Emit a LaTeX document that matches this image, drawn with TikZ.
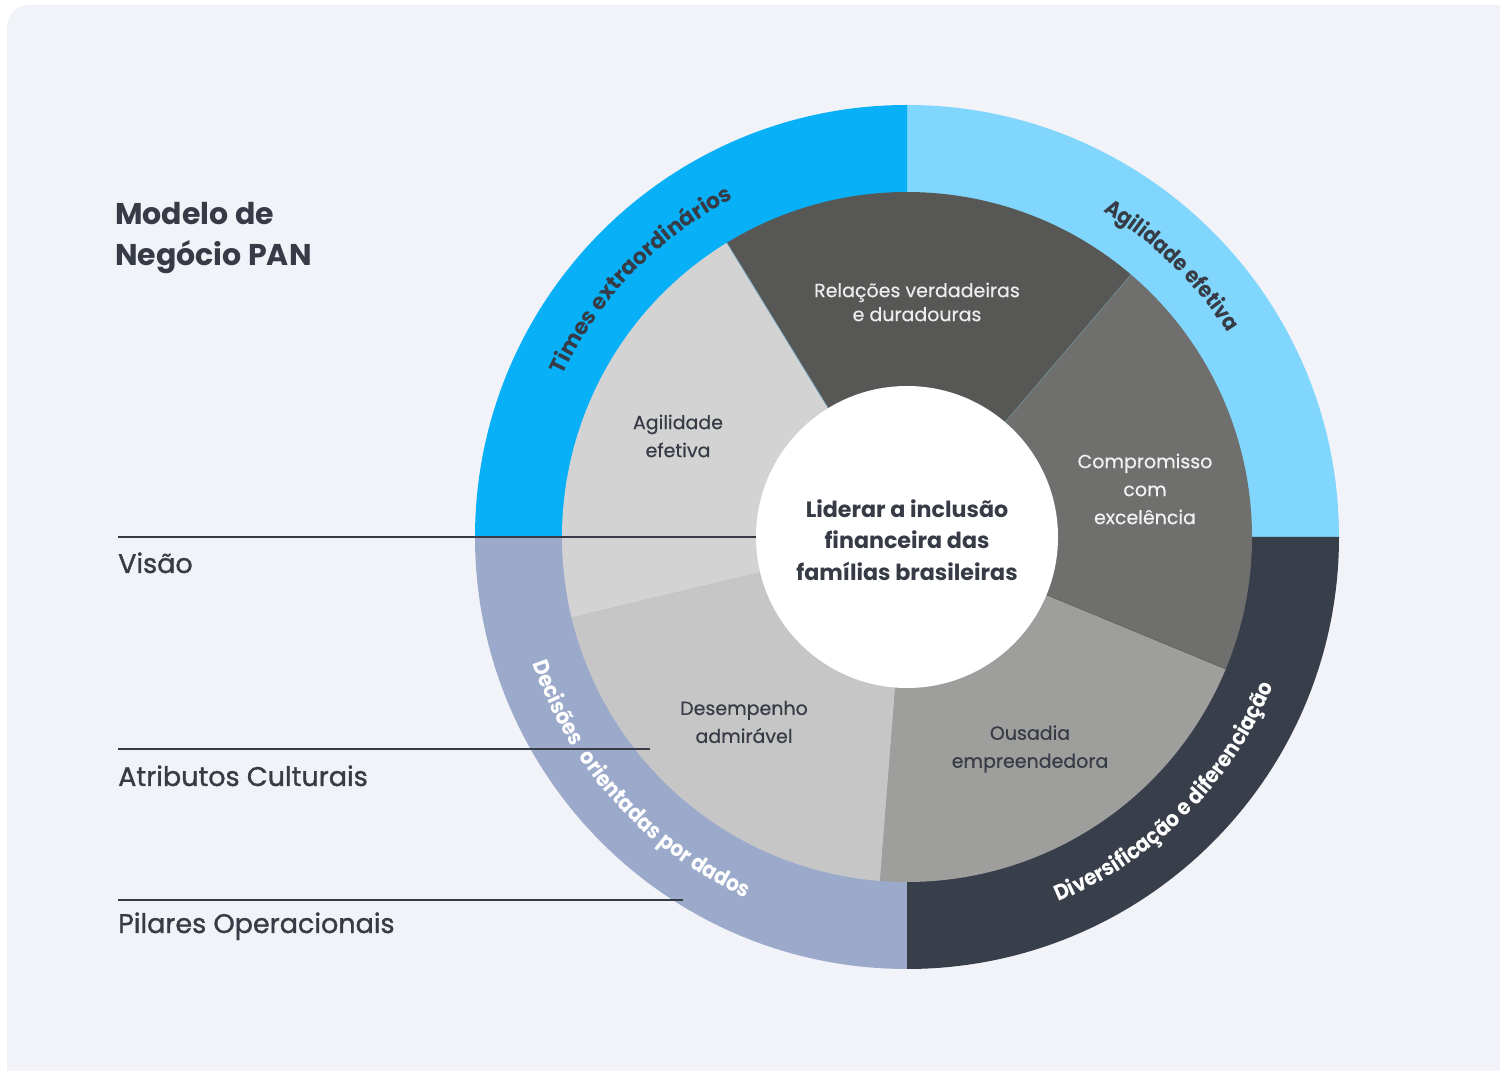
\documentclass[tikz,border=0pt]{standalone}
\usepackage{fontspec}
\setmainfont{Poppins}
\newfontfamily\medfont[FakeBold=1.2]{Poppins}
\newfontfamily\slfont[FakeBold=0.4]{Poppins}
\newfontfamily\ringfont[FakeStretch=0.91]{Poppins}
\usetikzlibrary{decorations.text}
\definecolor{bgc}{HTML}{F2F3F8}
\definecolor{txt}{HTML}{363B45}
\definecolor{ringA}{HTML}{08B0F8}
\definecolor{ringB}{HTML}{80D6FC}
\definecolor{ringC}{HTML}{393F4A}
\definecolor{ringD}{HTML}{9BAACB}
\definecolor{sA}{HTML}{575755}
\definecolor{sB}{HTML}{D3D3D3}
\definecolor{sC}{HTML}{C6C6C6}
\definecolor{sD}{HTML}{9E9E9C}
\definecolor{sE}{HTML}{6F6F6E}
\definecolor{seam}{HTML}{7FAFC8}
\begin{document}
\begin{tikzpicture}[x=1pt,y=1pt,
  lbl/.style={font=\medfont\fontsize{27}{34}\selectfont, text=txt, anchor=base west, inner sep=0},
  ttl/.style={font=\fontsize{30}{40}\selectfont\bfseries, text=txt, anchor=base west, inner sep=0},
  slicelbl/.style={font=\slfont\fontsize{19}{28}\selectfont, align=center, inner sep=0},
  rulestyle/.style={draw=txt, line width=2.2pt},
  ringtext/.style={decorate, decoration={text along path, text align=center, text={#1}}}
]
\useasboundingbox (0,0) rectangle (1500,1071);
\fill[white] (0,0) rectangle (1500,1071);
\fill[bgc, rounded corners=22pt] (7,-40) rectangle (1560,1066);
\coordinate (C) at (907,534);
% outer ring quadrants
\fill[ringB] (C) -- ++(0:432) arc[start angle=0, end angle=90, radius=432] -- cycle;
\fill[ringA] (C) -- ++(90:432) arc[start angle=90, end angle=180, radius=432] -- cycle;
\fill[ringD] (C) -- ++(180:432) arc[start angle=180, end angle=270, radius=432] -- cycle;
\fill[ringC] (C) -- ++(270:432) arc[start angle=270, end angle=360, radius=432] -- cycle;
% inner slices
\fill[sA] (C) -- ++(49.5:345) arc[start angle=49.5, end angle=121.5, radius=345] -- cycle;
\fill[sB] (C) -- ++(121.5:345) arc[start angle=121.5, end angle=193.5, radius=345] -- cycle;
\fill[sC] (C) -- ++(193.5:345) arc[start angle=193.5, end angle=265.5, radius=345] -- cycle;
\fill[sD] (C) -- ++(265.5:345) arc[start angle=265.5, end angle=337.5, radius=345] -- cycle;
\fill[sE] (C) -- ++(337.5:345) arc[start angle=337.5, end angle=409.5, radius=345] -- cycle;
\draw[seam, line width=0.7pt] (C) -- ++(121.5:345);
\draw[seam!60!sA, line width=0.7pt] (C) -- ++(49.5:345);
\draw[sA!80!sD, line width=0.7pt] (C) -- ++(337.5:345);
% hub
\node[circle, fill=white, minimum size=302pt, inner sep=0] (hub) at (C) {};
\node[font=\fontsize{22.2}{31.5}\selectfont\bfseries, text=txt, align=center, inner sep=0] (hubtext) at (907,531) {Liderar a inclusão\\financeira das\\famílias brasileiras};
% slice labels
\node[slicelbl, text=white!93!black, font=\slfont\fontsize{19}{24}\selectfont] (rel) at (917,769) {Relações verdadeiras\\e duradouras};
\node[slicelbl, text=txt] (agi) at (678,635) {Agilidade\\efetiva};
\node[slicelbl, text=white!95!black] (com) at (1145,582) {Compromisso\\com\\excelência};
\node[slicelbl, text=txt] (ous) at (1030,322) {Ousadia\\empreendedora};
\node[slicelbl, text=txt] (des) at (744,349) {Desempenho\\admirável};
% ring texts
\path[ringtext={|\fontsize{22}{26}\selectfont\bfseries\color{txt}|Times extraordinários}] (C) ++(176:380) arc[start angle=176, end angle=96, radius=380];
\path[ringtext={|\ringfont\fontsize{22}{26}\selectfont\bfseries\color{txt}|Agilidade efetiva}] (C) ++(85.7:380) arc[start angle=85.7, end angle=5.7, radius=380];
\path[ringtext={|\ringfont\fontsize{22}{26}\selectfont\bfseries\color{white}|Diversificação e diferenciação}] (C) ++(-84.8:395) arc[start angle=-84.8, end angle=-4.8, radius=395];
\path[ringtext={|\ringfont\fontsize{22}{26}\selectfont\bfseries\color{white}|Decisões{\hspace*{12pt}}orientadas por dados}] (C) ++(182.3:395) arc[start angle=182.3, end angle=262.3, radius=395];
% title and levels
\node[ttl] (title1) at (115,846) {Modelo de};
\node[ttl] (title2) at (115,805) {Negócio PAN};
\coordinate (r1) at (118,534);
\coordinate (r2a) at (118,322);
\coordinate (r2b) at (650,322);
\coordinate (r3a) at (118,171);
\coordinate (r3b) at (683,171);
\draw[rulestyle] (r1) -- (hub.west);
\draw[rulestyle] (r2a) -- (r2b);
\draw[rulestyle] (r3a) -- (r3b);
\node[lbl] (visao) at (118,498) {Visão};
\node[lbl] (atrib) at (118,285) {Atributos Culturais};
\node[lbl] (pilar) at (118,138) {Pilares Operacionais};
\end{tikzpicture}
\end{document}
